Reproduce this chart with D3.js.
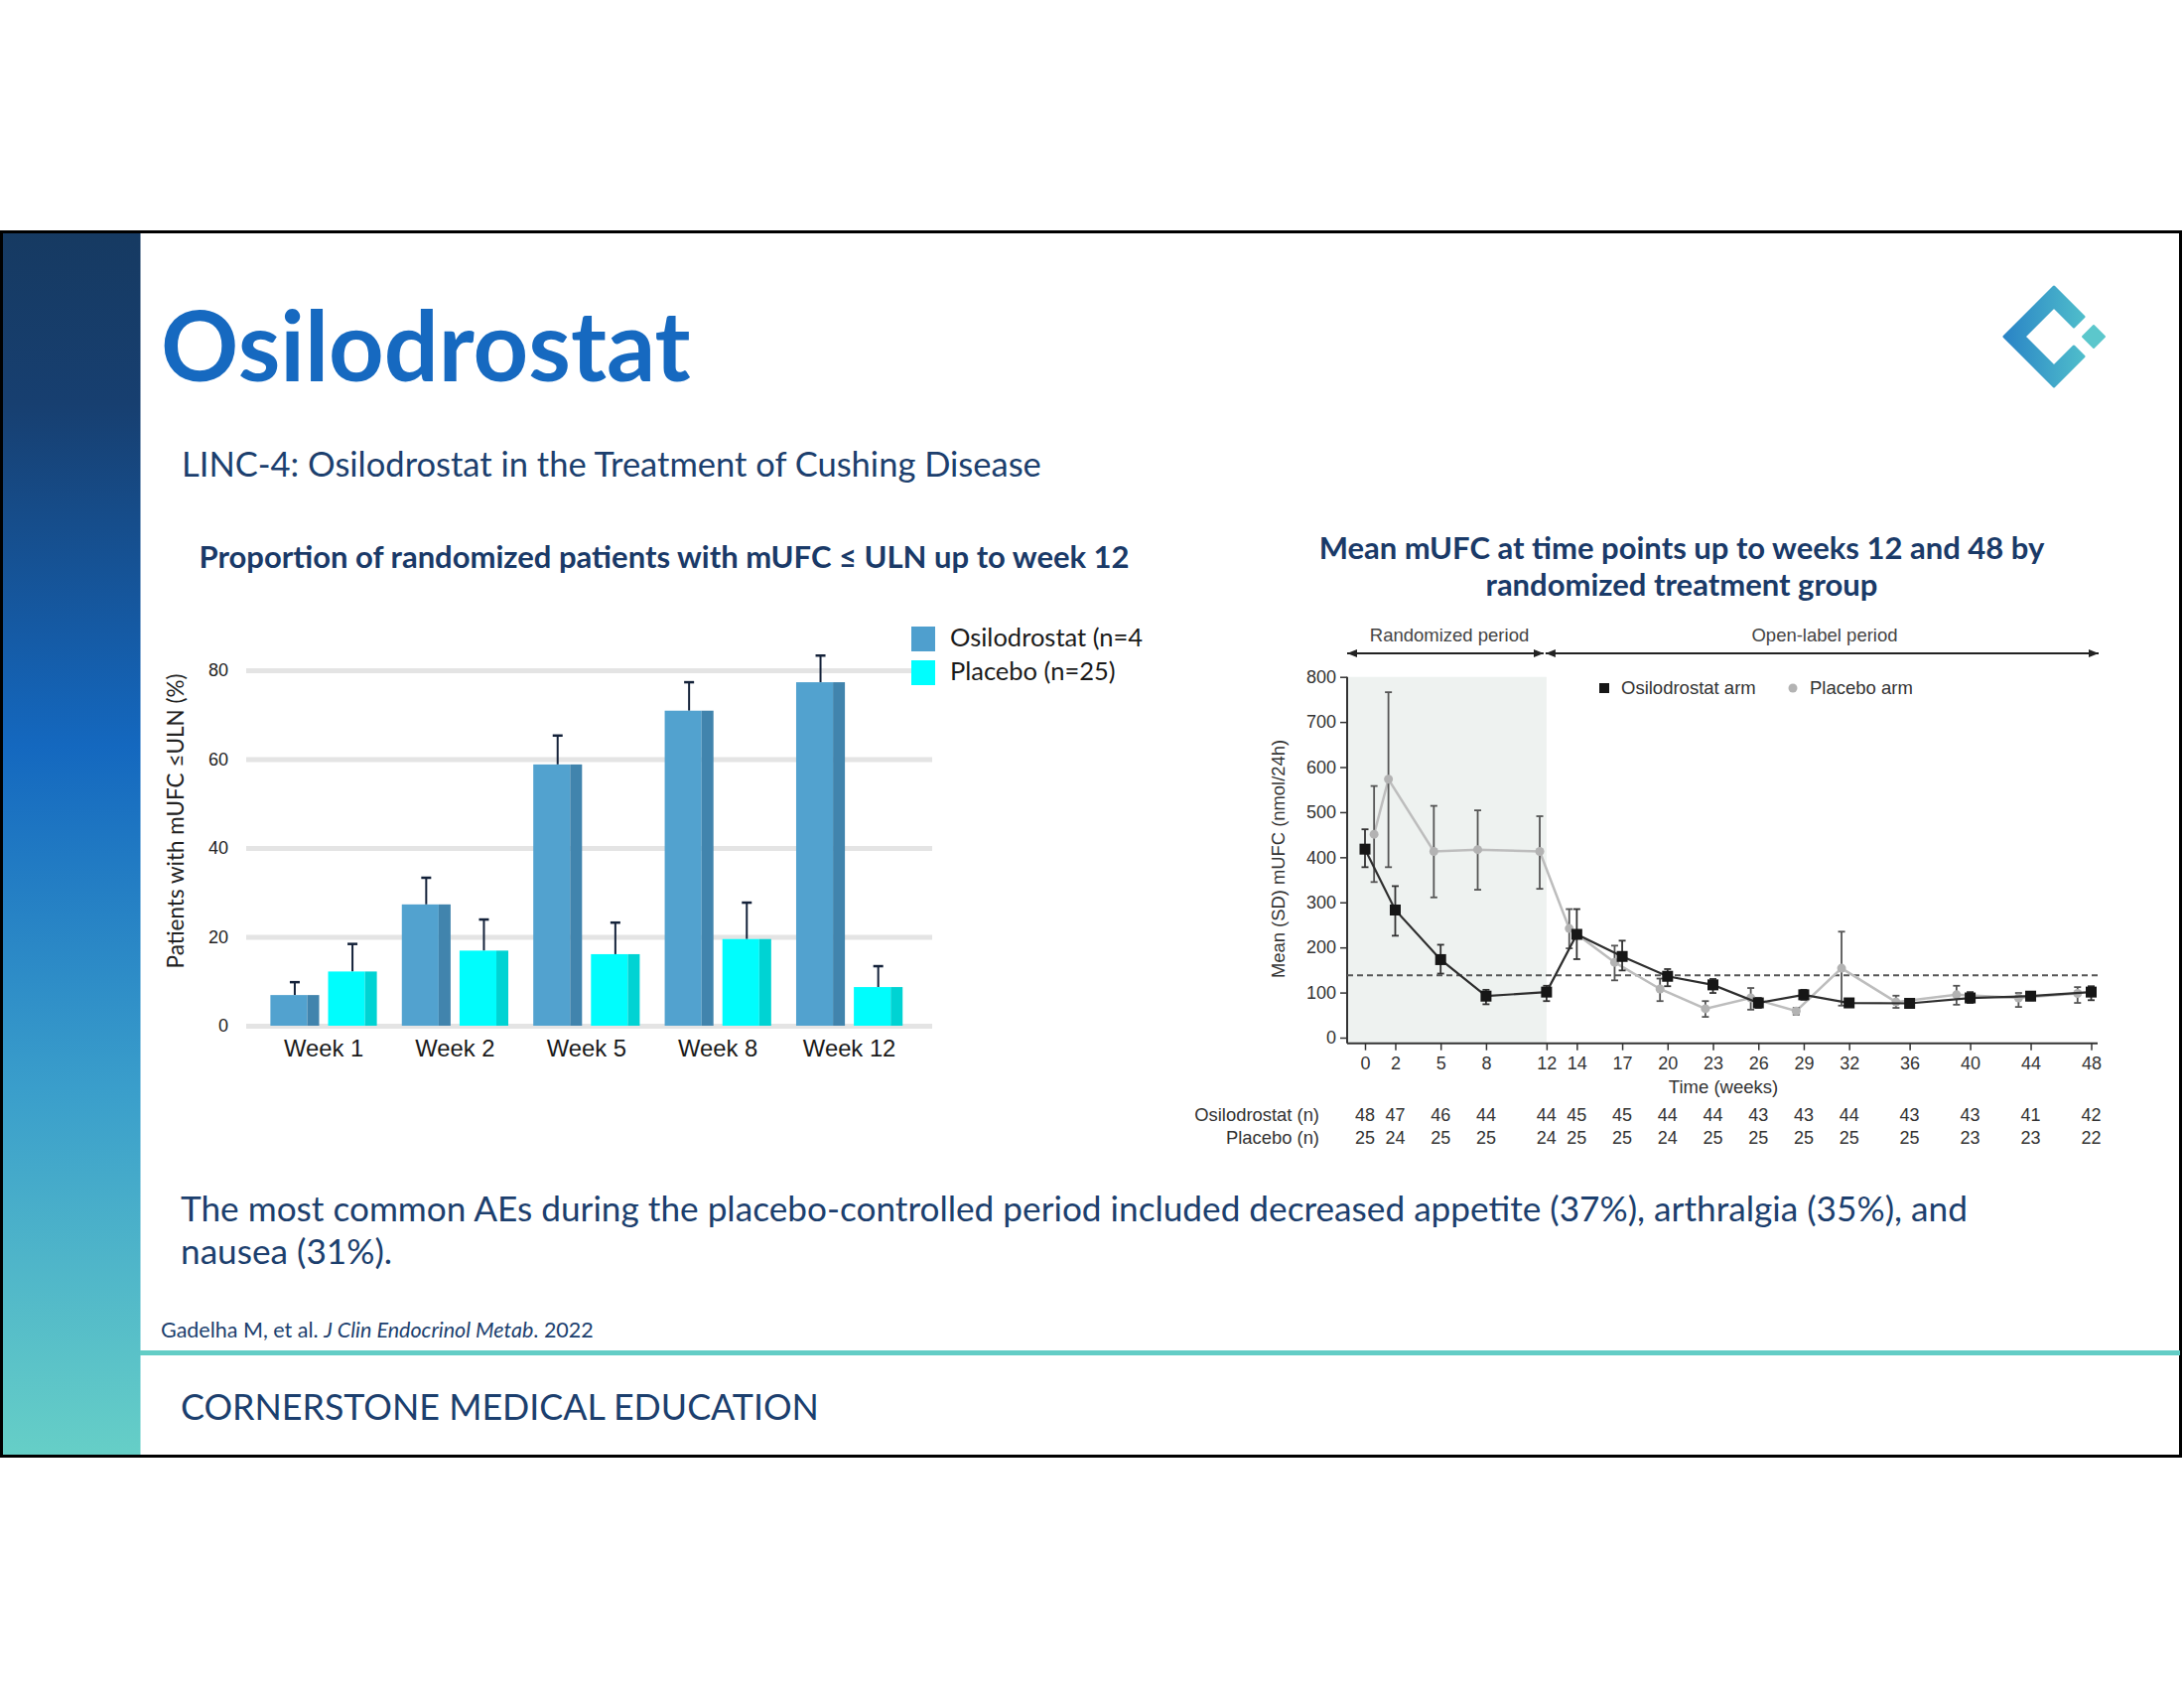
<!DOCTYPE html>
<html>
<head>
<meta charset="utf-8">
<script src="https://cdn.jsdelivr.net/npm/d3@7"></script>
<style>
  body { margin: 0; background: #fff; }
  svg { display: block; }
  .slide { font-family: Lato, 'Open Sans', sans-serif; }
  .fig { font-family: 'Liberation Sans', Arial, sans-serif; }
</style>
</head>
<body>
<svg id="chart" width="2200" height="1700"></svg>
<script>
// ---- left chart: proportion with mUFC <= ULN ----
var weekLabels = ['Week 1', 'Week 2', 'Week 5', 'Week 8', 'Week 12']
var barSeries = ['Osilodrostat (n=4', 'Placebo (n=25)']
var osiloPct = [6.9, 27.3, 58.8, 70.9, 77.3]
var osiloPctErr = [9.8, 33.3, 65.3, 77.3, 83.3]
var placeboPct = [12.2, 16.9, 16.1, 19.5, 8.7]
var placeboPctErr = [18.4, 23.9, 23.2, 27.7, 13.4]
var pctTicks = [0, 20, 40, 60, 80]

// ---- right chart: mean mUFC over time ----
var weeks = [0, 2, 5, 8, 12, 14, 17, 20, 23, 26, 29, 32, 36, 40, 44, 48]
var osiloMean = [418, 283, 173, 92, 101, 229, 180, 136, 117, 77, 95, 77, 76, 88, 92, 101]
var osiloLo = [378, 226, 142, 74, 81, 174, 149, 114, 99, 66, 84, 70, 66, 77, 83, 83]
var osiloHi = [462, 336, 206, 106, 115, 285, 215, 152, 130, 88, 106, 86, 84, 101, 99, 114]
var placeboWeek = [0.6, 1.55, 4.55, 7.45, 11.55, 13.5, 16.5, 19.5, 22.5, 25.5, 28.5, 31.5, 35.1, 39.1, 43.2, 47.1]
var placeboMean = [451, 573, 413, 417, 413, 242, 167, 108, 64, 88, 59, 154, 79, 95, 88, 98]
var placeboLo = [345, 378, 311, 328, 330, 198, 127, 81, 46, 62, 51, 71, 66, 73, 68, 77]
var placeboHi = [558, 766, 514, 504, 491, 285, 204, 131, 81, 110, 66, 235, 93, 115, 99, 112]
var osiloN = [48, 47, 46, 44, 44, 45, 45, 44, 44, 43, 43, 44, 43, 43, 41, 42]
var placeboN = [25, 24, 25, 25, 24, 25, 25, 24, 25, 25, 25, 25, 25, 23, 23, 22]
var mufcTicks = [0, 100, 200, 300, 400, 500, 600, 700, 800]
var uln = 138

var navy = '#1c3f6e'
var svg = d3.select('#chart')

// ---------- slide frame ----------
var defs = svg.append('defs')
var grad = defs.append('linearGradient').attr('id', 'sidebar')
  .attr('x1', 0).attr('y1', 0).attr('x2', 0).attr('y2', 1)
;[[0, '#163a62'], [0.14, '#173f70'], [0.42, '#1468bf'], [0.7, '#3a9ecb'], [1, '#66cfc7']].forEach(function(s) {
  grad.append('stop').attr('offset', s[0]).attr('stop-color', s[1])
})
var logoGrad = defs.append('linearGradient').attr('id', 'logo')
  .attr('x1', 0).attr('y1', 0).attr('x2', 1).attr('y2', 0)
logoGrad.append('stop').attr('offset', 0).attr('stop-color', '#2a84c6')
logoGrad.append('stop').attr('offset', 1).attr('stop-color', '#4fbdcb')

svg.append('rect').attr('x', 1.5).attr('y', 233.5).attr('width', 140).attr('height', 1233)
  .attr('fill', 'url(#sidebar)')
svg.append('rect').attr('x', 1.5).attr('y', 233.5).attr('width', 2195).attr('height', 1233)
  .attr('fill', 'none').attr('stroke', '#000').attr('stroke-width', 3)
svg.append('rect').attr('x', 141).attr('y', 1360).attr('width', 2055).attr('height', 5)
  .attr('fill', '#63cdc6')

// logo
svg.append('path')
  .attr('d', 'M2099,319 L2069,289 L2019,339 L2069,389 L2099,359 L2089,349 L2069,369 L2039,339 L2069,309 L2089,329 Z')
  .attr('fill', 'url(#logo)').attr('stroke', 'url(#logo)').attr('stroke-width', 3).attr('stroke-linejoin', 'round')
svg.append('path')
  .attr('d', 'M2109,328 L2120,339 L2109,350 L2098,339 Z')
  .attr('fill', '#5cc7cc').attr('stroke', '#5cc7cc').attr('stroke-width', 2).attr('stroke-linejoin', 'round')

var slide = svg.append('g').attr('class', 'slide')
slide.append('text').attr('x', 162).attr('y', 384).attr('font-size', 97).attr('font-weight', 700)
  .attr('fill', '#1669c0').text('Osilodrostat')
slide.append('text').attr('x', 183).attr('y', 480).attr('font-size', 34.5).attr('fill', navy)
  .text('LINC-4: Osilodrostat in the Treatment of Cushing Disease')
slide.append('text').attr('x', 182).attr('y', 1230).attr('font-size', 35.2).attr('fill', navy)
  .text('The most common AEs during the placebo-controlled period included decreased appetite (37%), arthralgia (35%), and')
slide.append('text').attr('x', 182).attr('y', 1273).attr('font-size', 35.2).attr('fill', navy)
  .text('nausea (31%).')
var cite = slide.append('text').attr('x', 162).attr('y', 1347).attr('font-size', 21.5).attr('fill', navy)
cite.append('tspan').text('Gadelha M, et al. ')
cite.append('tspan').attr('font-style', 'italic').text('J Clin Endocrinol Metab')
cite.append('tspan').text('. 2022')
slide.append('text').attr('x', 182).attr('y', 1430).attr('font-size', 35.8).attr('fill', navy)
  .text('CORNERSTONE MEDICAL EDUCATION')

// ---------- left chart ----------
slide.append('text').attr('x', 669).attr('y', 572).attr('text-anchor', 'middle')
  .attr('font-size', 31).attr('font-weight', 700).attr('fill', '#1a3a68')
  .text('Proportion of randomized patients with mUFC \u2264 ULN up to week 12')

var barColors = {main: ['#52a2cf', '#00fdfd'], side: ['#4184ad', '#00d3d3']}
var y = d3.scaleLinear().domain([0, 80]).range([1033, 675])
var x0 = d3.scaleBand().domain(weekLabels).range([259.8, 921.8]).paddingInner(0.19).paddingOuter(0.095)
var x1 = d3.scaleBand().domain(barSeries).range([0, x0.bandwidth()]).paddingInner(0.155)

var gy = slide.append('g').attr('transform', 'translate(248,0)')
  .call(d3.axisLeft(y).tickValues(pctTicks).tickSize(-691).tickPadding(18))
gy.select('.domain').remove()
gy.selectAll('.tick line').attr('stroke', '#e4e4e4').attr('stroke-width', 5)
gy.selectAll('.tick text').attr('font-size', 18).attr('fill', '#222').attr('font-family', null)

var gx = slide.append('g').attr('transform', 'translate(0,1033)')
  .call(d3.axisBottom(x0).tickSize(0).tickPadding(14))
gx.select('.domain').remove()
gx.selectAll('.tick text').attr('font-size', 23.8).attr('fill', '#1a1a1a').attr('font-family', null)

slide.append('text').attr('transform', 'translate(176,827) rotate(-90)')
  .attr('text-anchor', 'middle').attr('dominant-baseline', 'central')
  .attr('font-size', 22.5).attr('fill', '#222').text('Patients with mUFC \u2264ULN (%)')

var barRows = weekLabels.map(function(w, i) {
  return {week: w, vals: [
    {s: 0, v: osiloPct[i], e: osiloPctErr[i]},
    {s: 1, v: placeboPct[i], e: placeboPctErr[i]}
  ]}
})
var groups = slide.append('g').selectAll('g').data(barRows).join('g')
  .attr('transform', function(d) { return 'translate(' + x0(d.week) + ',0)' })
var bar = groups.selectAll('g').data(function(d) { return d.vals }).join('g')
  .attr('transform', function(d) { return 'translate(' + x1(barSeries[d.s]) + ',0)' })
var bw = x1.bandwidth(), side = Math.round(bw * 0.25)
bar.append('line')
  .attr('x1', bw / 2).attr('x2', bw / 2)
  .attr('y1', function(d) { return y(d.v) }).attr('y2', function(d) { return y(d.e) })
  .attr('stroke', '#14223a').attr('stroke-width', 2)
bar.append('line')
  .attr('x1', bw / 2 - 5).attr('x2', bw / 2 + 5)
  .attr('y1', function(d) { return y(d.e) }).attr('y2', function(d) { return y(d.e) })
  .attr('stroke', '#14223a').attr('stroke-width', 2.5)
bar.append('rect').attr('x', 0).attr('width', bw - side)
  .attr('y', function(d) { return y(d.v) }).attr('height', function(d) { return y(0) - y(d.v) })
  .attr('fill', function(d) { return barColors.main[d.s] })
bar.append('rect').attr('x', bw - side).attr('width', side)
  .attr('y', function(d) { return y(d.v) }).attr('height', function(d) { return y(0) - y(d.v) })
  .attr('fill', function(d) { return barColors.side[d.s] })

var leg = slide.append('g').selectAll('g').data(barSeries).join('g')
  .attr('transform', function(d, i) { return 'translate(918,' + (631 + i * 34) + ')' })
leg.append('rect').attr('width', 24).attr('height', 25)
  .attr('fill', function(d, i) { return i ? '#00fefe' : '#4f9fce' })
leg.append('text').attr('x', 39).attr('y', 20).attr('font-size', 25.5).attr('fill', '#1a1a1a')
  .text(function(d) { return d })

// ---------- right chart ----------
slide.append('text').attr('x', 1694).attr('y', 563).attr('text-anchor', 'middle')
  .attr('font-size', 31).attr('font-weight', 700).attr('fill', '#1a3a68')
  .text('Mean mUFC at time points up to weeks 12 and 48 by')
slide.append('text').attr('x', 1694).attr('y', 600).attr('text-anchor', 'middle')
  .attr('font-size', 31).attr('font-weight', 700).attr('fill', '#1a3a68')
  .text('randomized treatment group')

var fig = svg.append('g').attr('class', 'fig')
var xR = d3.scaleLinear().domain([0, 48]).range([1375, 2106.5])
var yR = d3.scaleLinear().domain([0, 800]).range([1045, 681.7])
var axisX = 1357, axisY = 1050.7, ink = '#333'

fig.append('rect').attr('x', axisX).attr('y', yR(800)).attr('width', xR(12) - axisX)
  .attr('height', axisY - yR(800)).attr('fill', '#eef2f0')

// period arrows
defs.append('marker').attr('id', 'head').attr('viewBox', '0 0 10 8')
  .attr('refX', 10).attr('refY', 4).attr('markerWidth', 10).attr('markerHeight', 8)
  .attr('markerUnits', 'userSpaceOnUse').attr('orient', 'auto-start-reverse')
  .append('path').attr('d', 'M0,0 L10,4 L0,8 Z').attr('fill', '#222')
;[[axisX, xR(12) - 3], [xR(12) - 1, 2114]].forEach(function(p) {
  fig.append('line').attr('x1', p[0]).attr('x2', p[1]).attr('y1', 658).attr('y2', 658)
    .attr('stroke', '#222').attr('stroke-width', 2)
    .attr('marker-start', 'url(#head)').attr('marker-end', 'url(#head)')
})
fig.append('text').attr('x', 1460).attr('y', 646).attr('text-anchor', 'middle')
  .attr('font-size', 18.5).attr('fill', '#444').text('Randomized period')
fig.append('text').attr('x', 1838).attr('y', 646).attr('text-anchor', 'middle')
  .attr('font-size', 18.5).attr('fill', '#444').text('Open-label period')

// axes
var ay = fig.append('g').attr('transform', 'translate(' + axisX + ',0)')
  .call(d3.axisLeft(yR).tickValues(mufcTicks).tickSize(7).tickPadding(4))
ay.select('.domain').remove()
ay.selectAll('line').attr('stroke', ink).attr('stroke-width', 1.5)
ay.selectAll('text').attr('font-size', 18).attr('fill', ink).attr('font-family', null)
fig.append('line').attr('x1', axisX).attr('x2', axisX).attr('y1', yR(800)).attr('y2', axisY)
  .attr('stroke', ink).attr('stroke-width', 2)

var ax = fig.append('g').attr('transform', 'translate(0,' + axisY + ')')
  .call(d3.axisBottom(xR).tickValues(weeks).tickSize(7).tickPadding(7))
ax.select('.domain').remove()
ax.selectAll('line').attr('stroke', ink).attr('stroke-width', 1.5)
ax.selectAll('text').attr('font-size', 18).attr('fill', ink).attr('font-family', null)
fig.append('line').attr('x1', axisX).attr('x2', 2113).attr('y1', axisY).attr('y2', axisY)
  .attr('stroke', ink).attr('stroke-width', 2)

fig.append('text').attr('x', 1736).attr('y', 1101).attr('text-anchor', 'middle')
  .attr('font-size', 18.5).attr('fill', ink).text('Time (weeks)')
fig.append('text').attr('transform', 'translate(1287,865) rotate(-90)')
  .attr('text-anchor', 'middle').attr('dominant-baseline', 'central')
  .attr('font-size', 18.4).attr('fill', ink).text('Mean (SD) mUFC (nmol/24h)')

// ULN reference
fig.append('line').attr('x1', axisX).attr('x2', 2113).attr('y1', yR(uln)).attr('y2', yR(uln))
  .attr('stroke', '#555').attr('stroke-width', 2).attr('stroke-dasharray', '6,4')

function drawArm(xs, mean, lo, hi, opt) {
  var pts = xs.map(function(w, i) { return {x: xR(w), m: yR(mean[i]), lo: yR(lo[i]), hi: yR(hi[i])} })
  var g = fig.append('g')
  g.append('path').datum(pts)
    .attr('d', d3.line().x(function(d) { return d.x }).y(function(d) { return d.m }))
    .attr('fill', 'none').attr('stroke', opt.line).attr('stroke-width', opt.width)
  var eb = g.selectAll('.eb').data(pts).join('g').attr('class', 'eb')
  eb.append('line').attr('x1', function(d) { return d.x }).attr('x2', function(d) { return d.x })
    .attr('y1', function(d) { return d.lo }).attr('y2', function(d) { return d.hi })
    .attr('stroke', opt.err).attr('stroke-width', 1.8)
  ;['lo', 'hi'].forEach(function(k) {
    eb.append('line').attr('x1', function(d) { return d.x - 3.5 }).attr('x2', function(d) { return d.x + 3.5 })
      .attr('y1', function(d) { return d[k] }).attr('y2', function(d) { return d[k] })
      .attr('stroke', opt.err).attr('stroke-width', 1.8)
  })
  return g.selectAll('.pt').data(pts).join(opt.shape).attr('class', 'pt')
}

drawArm(placeboWeek, placeboMean, placeboLo, placeboHi, {line: '#bdbdbd', width: 2.5, err: '#555', shape: 'circle'})
  .attr('cx', function(d) { return d.x }).attr('cy', function(d) { return d.m })
  .attr('r', 4.5).attr('fill', '#b3b3b3')
drawArm(weeks, osiloMean, osiloLo, osiloHi, {line: '#2e2e2e', width: 2.2, err: '#333', shape: 'rect'})
  .attr('x', function(d) { return d.x - 5.5 }).attr('y', function(d) { return d.m - 5.5 })
  .attr('width', 11).attr('height', 11).attr('fill', '#161616')

// legend
fig.append('rect').attr('x', 1611).attr('y', 688).attr('width', 10).attr('height', 10).attr('fill', '#161616')
fig.append('text').attr('x', 1633).attr('y', 699).attr('font-size', 18.5).attr('fill', ink).text('Osilodrostat arm')
fig.append('circle').attr('cx', 1806).attr('cy', 693).attr('r', 4.5).attr('fill', '#b3b3b3')
fig.append('text').attr('x', 1823).attr('y', 699).attr('font-size', 18.5).attr('fill', ink).text('Placebo arm')

// patients at risk
fig.append('text').attr('x', 1329).attr('y', 1129).attr('text-anchor', 'end')
  .attr('font-size', 18.4).attr('fill', ink).text('Osilodrostat (n)')
fig.append('text').attr('x', 1329).attr('y', 1152).attr('text-anchor', 'end')
  .attr('font-size', 18.4).attr('fill', ink).text('Placebo (n)')
fig.append('g').selectAll('text').data(weeks).join('text')
  .attr('x', function(d) { return xR(d) }).attr('y', 1129).attr('text-anchor', 'middle')
  .attr('font-size', 18).attr('fill', ink).text(function(d, i) { return osiloN[i] })
fig.append('g').selectAll('text').data(weeks).join('text')
  .attr('x', function(d) { return xR(d) }).attr('y', 1152).attr('text-anchor', 'middle')
  .attr('font-size', 18).attr('fill', ink).text(function(d, i) { return placeboN[i] })
</script>
</body>
</html>
